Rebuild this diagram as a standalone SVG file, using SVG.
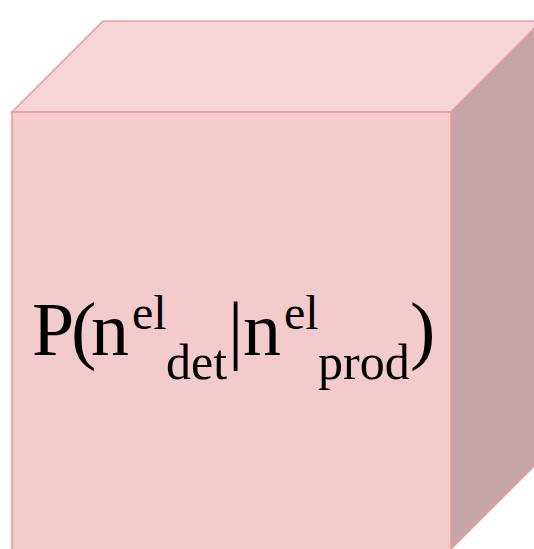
<svg xmlns="http://www.w3.org/2000/svg" width="534" height="549" viewBox="0 0 534 549">
<style>
.edge{stroke:#E99C9C;stroke-width:1.6;stroke-linejoin:miter}
.t{font-family:"Liberation Serif","Times New Roman",serif;fill:#000}
.sup{font-size:48px}
.sub{font-size:50px}
</style>
<rect width="534" height="549" fill="#fff"/>
<g id="cube">
<polygon class="edge" points="12,112 103,21 542,21 451,112" fill="#F5D5D7"/>
<polygon class="edge" points="451,112 542,21 542,458 451,549" fill="#C4A4A6"/>
<rect class="edge" x="12" y="112" width="439" height="440" fill="#F4CBCC"/>
<text class="t" font-size="76"><tspan x="32" y="355">P</tspan><tspan x="71" y="355">(</tspan><tspan x="91" y="355">n</tspan><tspan class="sup" x="132" y="329">el</tspan><tspan class="sub" x="166" y="379">det</tspan><tspan x="228" y="355">|</tspan><tspan x="243" y="355">n</tspan><tspan class="sup" x="284" y="329">el</tspan><tspan class="sub" x="318" y="379">prod</tspan><tspan x="410" y="355">)</tspan></text>
</g>
</svg>
